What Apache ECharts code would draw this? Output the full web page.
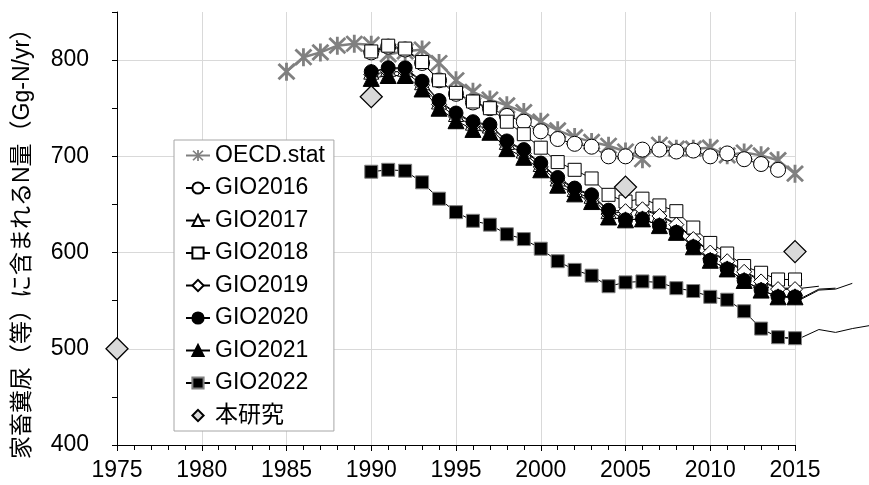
<!DOCTYPE html>
<html><head><meta charset="utf-8">
<script src="https://cdn.jsdelivr.net/npm/echarts@6/dist/echarts.min.js"></script>
<style>html,body{margin:0;padding:0;background:#fff}#c{width:869px;height:485px}</style>
</head><body><div id="c"></div>
<script>
// ---- data ----
const yearsOECD = [1985,1986,1987,1988,1989,1990,1991,1992,1993,1994,1995,1996,1997,1998,1999,2000,2001,2002,2003,2004,2005,2006,2007,2008,2009,2010,2011,2012,2013,2014,2015];
const oecd      = [788,803,808,815,817,816,806,809,811,797,779,767,759,753,746,736,727,720,715,711,705,697,712,708,708,709,701,704,701,696,682];

const years9014 = [1990,1991,1992,1993,1994,1995,1996,1997,1998,1999,2000,2001,2002,2003,2004,2005,2006,2007,2008,2009,2010,2011,2012,2013,2014];
const years9015 = [1990,1991,1992,1993,1994,1995,1996,1997,1998,1999,2000,2001,2002,2003,2004,2005,2006,2007,2008,2009,2010,2011,2012,2013,2014,2015];

const gio2016 = [808,814,811,797,779,765,756,750,742,736,726,718,713,710,700,700,707,707,705,706,700,703,697,692,686];
const gio2017 = [788,791,791,777,757,744,735,732,715,706,692,677,666,659,643,644,646,639,630,615,601,592,581,571,563,563];
const gio2018 = [809,815,812,798,779,766,757,750,736,723,709,694,686,677,660,653,656,649,643,626,610,599,586,579,572,572];
const gio2019 = [785,788,788,774,754,741,732,729,712,703,689,674,663,656,640,643,645,638,629,614,600,591,580,570,562,562];
const gio2020 = [788,792,792,778,758,745,736,733,716,707,693,678,667,660,644,634,635,628,621,606,592,583,571,561,554,554];
const gio2021 = [781,784,784,770,750,737,728,725,708,699,686,670,661,653,637,634,635,628,621,606,592,583,571,561,554,554];
const gio2022 = [684,686,685,673,656,642,633,629,619,614,604,591,582,576,565,569,570,569,563,560,554,551,539,521,512,511];

// values reported after 2015 (drawn as lines beyond the axis end)
const tail2018Years = [2016];                     const tail2018 = [572];
const tail2019Years = [2016,2017];                const tail2019 = [563,565];
const tail2020Years = [2016,2017,2018];           const tail2020 = [553,562,563];
const tail2021Years = [2016,2017,2018,2019];      const tail2021 = [552,561,562,568];
const tail2022Years = [2016,2017,2018,2019,2020]; const tail2022 = [512,520,517,521,524];

const studyYears = [1975,1990,2005,2015];
const study      = [500,762,668,601];

const xTicks = [1975,1980,1985,1990,1995,2000,2005,2010,2015];
const yTicks = [400,500,600,700,800];

const legendNames = ['OECD.stat','GIO2016','GIO2017','GIO2018','GIO2019','GIO2020','GIO2021','GIO2022','本研究'];
const yTitle = '家畜糞尿（等）に含まれるN量（Gg-N/yr）';

// ---- build ----
const FONT = '"Liberation Sans", Arial, "Noto Sans CJK JP", sans-serif';
const pairs = (xs, ys) => xs.map((x, i) => [x, ys[i]]);
const ASTER = 'path://M8.5,0L11.5,0L11.5,20L8.5,20Z M2.56,0.44L19.56,17.44L17.44,19.56L0.44,2.56Z M19.56,2.56L2.56,19.56L0.44,17.44L17.44,0.44Z';

const X0 = xTicks[0], X1 = xTicks[xTicks.length - 1];
const GL = 117, GR = 74, GT = 12, GB = 40, W = 869;
const pxPerYear = (W - GL - GR) / (X1 - X0);
const X1ext = 2020;
const rightExt = W - (GL + pxPerYear * (X1ext - X0));

function lineSeries(name, xs, ys, symbol, size, fill, border, borderW, lineColor, lineW) {
  return {
    type: 'line', name: name, data: pairs(xs, ys),
    symbol: symbol, symbolSize: size, showSymbol: true, showAllSymbol: true,
    itemStyle: { color: fill, borderColor: border, borderWidth: borderW, opacity: 1 },
    lineStyle: { color: lineColor, width: lineW },
    emphasis: { disabled: true }, clip: true, z: 2
  };
}
function tail(lastX, lastY, xs, ys) {
  return {
    type: 'line', name: '_tail' + lastX + '_' + lastY,
    xAxisIndex: 1, yAxisIndex: 1,
    data: [[lastX, lastY]].concat(pairs(xs, ys)),
    symbol: 'none', showSymbol: false, clip: false, silent: true,
    lineStyle: { color: '#000', width: 1 }, emphasis: { disabled: true }, z: 2
  };
}

const series = [
  tail(X1, gio2018[gio2018.length-1], tail2018Years, tail2018),
  tail(X1, gio2019[gio2019.length-1], tail2019Years, tail2019),
  tail(X1, gio2020[gio2020.length-1], tail2020Years, tail2020),
  tail(X1, gio2021[gio2021.length-1], tail2021Years, tail2021),
  tail(X1, gio2022[gio2022.length-1], tail2022Years, tail2022),
  lineSeries('OECD.stat', yearsOECD, oecd, ASTER, 18, '#808080', '#808080', 0, '#808080', 2.5),
  lineSeries('GIO2016', years9014, gio2016, 'circle', 15, '#fff', '#000', 1, '#000', 1),
  lineSeries('GIO2017', years9015, gio2017, 'triangle', [15,15], '#fff', '#000', 1, '#000', 1),
  lineSeries('GIO2018', years9015, gio2018, 'rect', 13, '#fff', '#000', 1, '#000', 1),
  lineSeries('GIO2019', years9015, gio2019, 'diamond', 15, '#fff', '#000', 1, '#000', 1),
  lineSeries('GIO2020', years9015, gio2020, 'circle', 14, '#000', '#000', 1, '#000', 1),
  lineSeries('GIO2021', years9015, gio2021, 'triangle', [16,16], '#000', '#000', 1, '#000', 1),
  lineSeries('GIO2022', years9015, gio2022, 'rect', 13, '#000', '#808080', 1, '#000', 1),
  Object.assign(lineSeries('本研究', studyYears, study, 'diamond', 22, '#d9d9d9', '#000', 1.3, '#000', 1),
    { lineStyle: { width: 0, opacity: 0 }, z: 3 })
];

const chart = echarts.init(document.getElementById('c'), null, { renderer: 'canvas' });
chart.setOption({
  animation: false,
  backgroundColor: '#fff',
  grid: [
    { left: GL, right: GR, top: GT, bottom: GB, containLabel: false },
    { left: GL, right: rightExt, top: GT, bottom: GB, containLabel: false }
  ],
  xAxis: [{
    type: 'value', gridIndex: 0, min: X0, max: X1, interval: 5,
    axisLine: { show: true, onZero: false, lineStyle: { color: '#000', width: 1 } },
    axisTick: { show: true, length: 6, lineStyle: { color: '#000' } },
    minorTick: { show: true, splitNumber: 5, length: 5, lineStyle: { color: '#000' } },
    axisLabel: { color: '#000', fontSize: 23, fontFamily: FONT, margin: 14,
      formatter: v => xTicks.indexOf(v) >= 0 ? String(v) : '' },
    splitLine: { show: true, lineStyle: { color: '#d9d9d9', width: 1 } },
    minorSplitLine: { show: false }
  }, {
    type: 'value', gridIndex: 1, min: X0, max: X1ext, show: false
  }],
  yAxis: [{
    type: 'value', gridIndex: 0, min: 400, max: 850, interval: 50,
    axisLine: { show: true, onZero: false, lineStyle: { color: '#000', width: 1 } },
    axisTick: { show: true, length: 5, lineStyle: { color: '#000' } },
    axisLabel: { color: '#000', fontSize: 23, fontFamily: FONT, margin: 28,
      formatter: v => yTicks.indexOf(v) >= 0 ? String(v) : '' },
    splitLine: { show: true, lineStyle: { color: ['#d9d9d9', 'rgba(0,0,0,0)'], width: 1 } }
  }, {
    type: 'value', gridIndex: 1, min: 400, max: 850, show: false
  }],
  legend: {
    data: legendNames, orient: 'vertical', left: 174, top: 140,
    itemWidth: 24, itemHeight: 14, itemGap: 9.5,
    padding: [4, 9, 4, 11],
    backgroundColor: '#fff', borderColor: '#a6a6a6', borderWidth: 1, borderRadius: 0,
    selectedMode: false,
    textStyle: { fontSize: 23, fontFamily: FONT, color: '#000' }, z: 10
  },
  graphic: [{
    type: 'text', x: 22.5, y: 238, rotation: Math.PI / 2, z: 10,
    style: { text: yTitle, font: '23px ' + FONT, fill: '#000', align: 'center', verticalAlign: 'middle' }
  }],
  series: series
});
</script></body></html>
